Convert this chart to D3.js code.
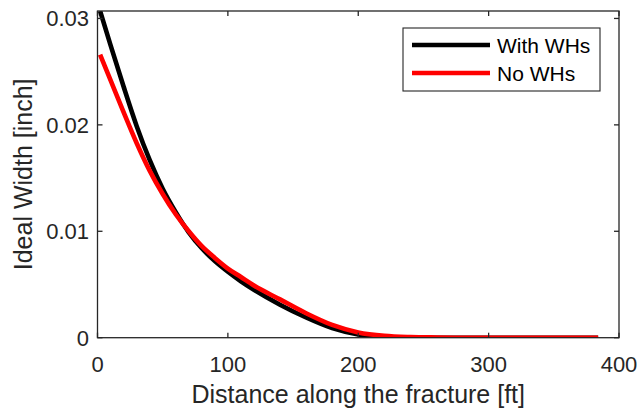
<!DOCTYPE html>
<html>
<head>
<meta charset="utf-8">
<script src="https://cdn.jsdelivr.net/npm/d3@7"></script>
<style>
  html, body { margin: 0; padding: 0; background: #fff; }
  svg { display: block; font-family: "Liberation Sans", Arial, Helvetica, sans-serif; }
</style>
</head>
<body>
<svg id="chart" width="640" height="414"></svg>
<script>
// ---- data ----
const distWith = [2, 10, 20, 30, 40, 50, 60, 70, 80, 90, 100, 110, 120, 140, 160, 180, 200, 220, 240, 260, 300, 340, 384];
const widthWith = [0.0307, 0.0275, 0.0236, 0.0199, 0.0167, 0.0140, 0.0118, 0.0099, 0.0084, 0.0072, 0.0062, 0.0053, 0.0045, 0.0031, 0.0019, 0.0009, 0.0003, 0.00006, 0.0, 0.0, 0.0, 0.0, 0.0];
const distNo = [2, 10, 20, 30, 40, 50, 60, 70, 80, 90, 100, 110, 120, 140, 160, 180, 200, 220, 240, 260, 280, 300, 340, 384];
const widthNo = [0.0266, 0.0242, 0.0212, 0.0183, 0.0157, 0.0135, 0.0116, 0.0100, 0.0086, 0.0075, 0.0065, 0.0057, 0.0049, 0.0036, 0.0023, 0.0012, 0.0005, 0.00018, 0.00006, 0.00002, 0.0, 0.0, 0.0, 0.0];
const seriesNames = ["With WHs", "No WHs"];
const seriesColors = ["#000000", "#ff0000"];
const xTicks = [0, 100, 200, 300, 400];
const yTicks = [0, 0.01, 0.02, 0.03];
const xDomain = [0, 400];
const yDomain = [0, 0.0307];
const xLabel = "Distance along the fracture [ft]";
const yLabel = "Ideal Width [inch]";

// ---- layout ----
const L = 97.5, R = 619, T = 11, B = 337.7;
const axisColor = "#262626";
const svg = d3.select("#chart");

const x = d3.scaleLinear().domain(xDomain).range([L, R]);
const y = d3.scaleLinear().domain(yDomain).range([B, T]);

svg.append("defs").append("clipPath").attr("id", "clip")
  .append("rect").attr("x", L).attr("y", T).attr("width", R - L).attr("height", B - T);

// curves
const line = d3.line().x(d => x(d[0])).y(d => y(d[1])).curve(d3.curveMonotoneX);
const series = [
  d3.zip(distWith, widthWith),
  d3.zip(distNo, widthNo)
];
const g = svg.append("g").attr("clip-path", "url(#clip)");
series.forEach((s, i) => {
  g.append("path").datum(s)
    .attr("d", line)
    .attr("fill", "none")
    .attr("stroke", seriesColors[i])
    .attr("stroke-width", 4.6)
    .attr("stroke-linejoin", "round");
});

// axes box
svg.append("rect").attr("x", L).attr("y", T).attr("width", R - L).attr("height", B - T)
  .attr("fill", "none").attr("stroke", axisColor).attr("stroke-width", 1.3);

// ticks (inward, on all four sides)
const tk = 5;
const tg = svg.append("g").attr("stroke", axisColor).attr("stroke-width", 1.3);
xTicks.forEach(v => {
  tg.append("line").attr("x1", x(v)).attr("x2", x(v)).attr("y1", B).attr("y2", B - tk);
  tg.append("line").attr("x1", x(v)).attr("x2", x(v)).attr("y1", T).attr("y2", T + tk);
});
yTicks.forEach(v => {
  tg.append("line").attr("x1", L).attr("x2", L + tk).attr("y1", y(v)).attr("y2", y(v));
  tg.append("line").attr("x1", R).attr("x2", R - tk).attr("y1", y(v)).attr("y2", y(v));
});

// tick labels
const fmtY = v => v === 0 ? "0" : d3.format(".2f")(v);
svg.append("g").selectAll("text").data(xTicks).join("text")
  .attr("x", d => x(d)).attr("y", 372)
  .attr("text-anchor", "middle").attr("font-size", 22).attr("fill", axisColor)
  .text(d => d);
svg.append("g").selectAll("text").data(yTicks).join("text")
  .attr("x", 89).attr("y", d => y(d)).attr("dy", "0.36em")
  .attr("text-anchor", "end").attr("font-size", 22).attr("fill", axisColor)
  .text(fmtY);

// axis labels
svg.append("text").attr("x", (L + R) / 2).attr("y", 403)
  .attr("text-anchor", "middle").attr("font-size", 25).attr("fill", axisColor)
  .text(xLabel);
svg.append("text").attr("transform", `translate(32, ${(T + B) / 2}) rotate(-90)`)
  .attr("text-anchor", "middle").attr("font-size", 25).attr("fill", axisColor)
  .text(yLabel);

// legend
const lg = svg.append("g");
lg.append("rect").attr("x", 403).attr("y", 28).attr("width", 197).attr("height", 63)
  .attr("fill", "#fff").attr("stroke", axisColor).attr("stroke-width", 1.1);
const legendY = [45, 73];
seriesNames.forEach((name, i) => {
  lg.append("line").attr("x1", 412).attr("x2", 490).attr("y1", legendY[i]).attr("y2", legendY[i])
    .attr("stroke", seriesColors[i]).attr("stroke-width", 4.6);
  lg.append("text").attr("x", 497).attr("y", legendY[i]).attr("dy", "0.36em")
    .attr("font-size", 21).attr("fill", "#000").text(name);
});
</script>
</body>
</html>
